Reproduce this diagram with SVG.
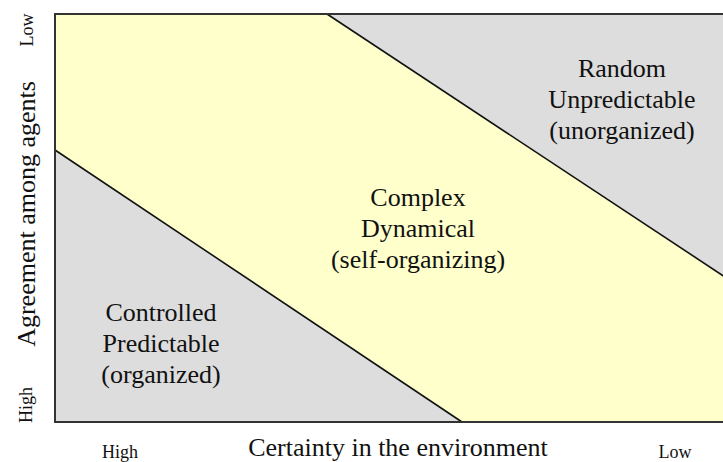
<svg xmlns="http://www.w3.org/2000/svg" width="723" height="462" viewBox="0 0 723 462">
<style>
.lbl{font-family:"Liberation Serif","Times New Roman",serif;font-size:26px;fill:#111;text-anchor:middle}
.ax{font-family:"Liberation Serif","Times New Roman",serif;font-size:26px;fill:#111;text-anchor:middle}
.tick{font-family:"Liberation Serif","Times New Roman",serif;font-size:18px;fill:#111;text-anchor:middle}
.div{stroke:#111;stroke-width:1.6;fill:none}
</style>
<rect x="0" y="0" width="723" height="462" fill="#ffffff"/>
<g id="plot">
<rect x="55" y="14" width="670" height="408" fill="#FFFFCC"/>
</g>
<g id="random">
<polygon points="327,14 725,14 725,277" fill="#DDDDDD"/>
<text class="lbl" x="622" y="77">Random</text>
<text class="lbl" x="622" y="108">Unpredictable</text>
<text class="lbl" x="622" y="139">(unorganized)</text>
</g>
<g id="controlled">
<polygon points="55,150 55,422 462,422" fill="#DDDDDD"/>
<text class="lbl" x="161" y="321">Controlled</text>
<text class="lbl" x="161" y="352">Predictable</text>
<text class="lbl" x="161" y="383">(organized)</text>
</g>
<g id="complex">
<text class="lbl" x="418" y="206">Complex</text>
<text class="lbl" x="418" y="237">Dynamical</text>
<text class="lbl" x="418" y="268">(self-organizing)</text>
</g>
<g id="connectors">
<line class="div" x1="327" y1="14" x2="725" y2="277"/>
<line class="div" x1="55" y1="150" x2="462" y2="422"/>
<polyline points="725,14 55,14 55,422 725,422" fill="none" stroke="#333" stroke-width="2"/>
</g>
<g id="axes">
<text class="ax" x="398" y="456">Certainty in the environment</text>
<text class="tick" x="120" y="458">High</text>
<text class="tick" x="675" y="458">Low</text>
<text class="ax" transform="translate(35,214) rotate(-90)">Agreement among agents</text>
<text class="tick" transform="translate(33,30) rotate(-90)">Low</text>
<text class="tick" transform="translate(32,405) rotate(-90)">High</text>
</g>
</svg>
